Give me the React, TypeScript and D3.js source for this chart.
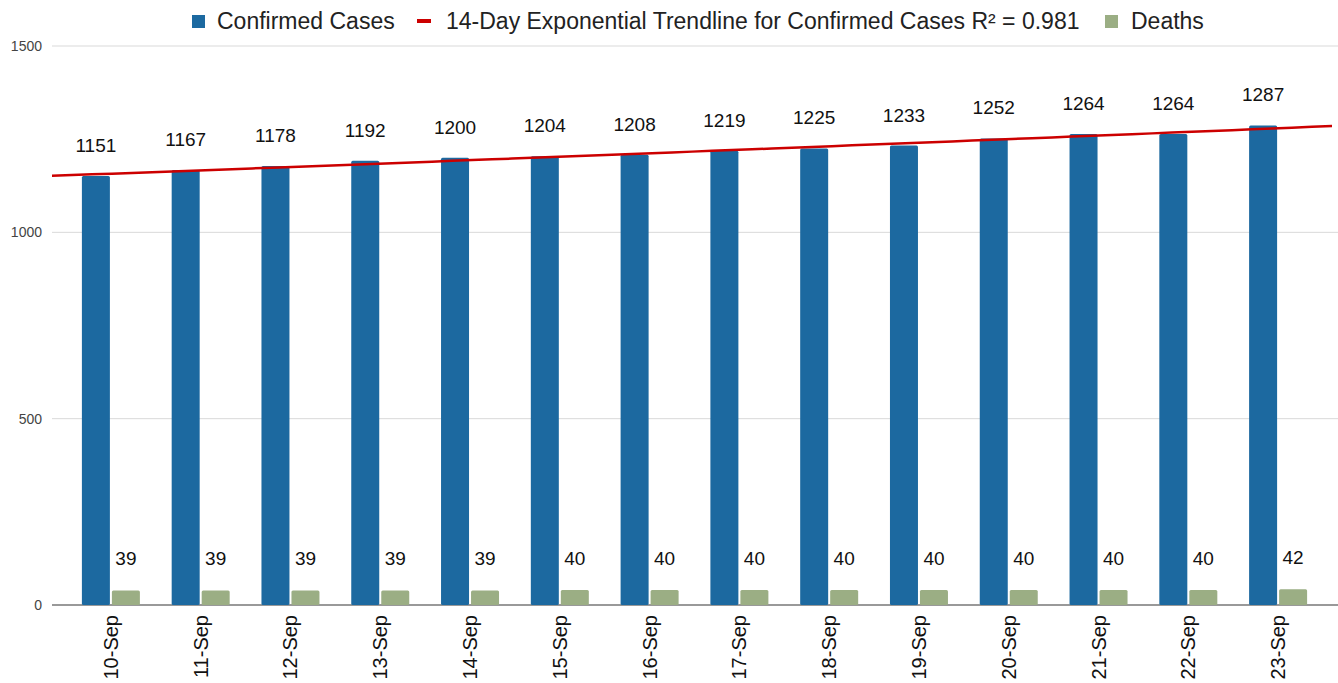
import React from "react";
import * as d3 from "d3";

const WIDTH = 1338;
const HEIGHT = 683;

const dates = ["10-Sep", "11-Sep", "12-Sep", "13-Sep", "14-Sep", "15-Sep", "16-Sep", "17-Sep", "18-Sep", "19-Sep", "20-Sep", "21-Sep", "22-Sep", "23-Sep"];
const confirmed = [1151, 1167, 1178, 1192, 1200, 1204, 1208, 1219, 1225, 1233, 1252, 1264, 1264, 1287];
const deaths = [39, 39, 39, 39, 39, 40, 40, 40, 40, 40, 40, 40, 40, 42];
const yTicks = [0, 500, 1000, 1500];

const BLUE = "#1c69a0";
const GREEN = "#9bae84";
const RED = "#cc0000";
const FONT = "'Liberation Sans', Arial, sans-serif";

// grid spans the whole width, bars sit in a slightly narrower band
const GRID_LEFT = 52;
const GRID_RIGHT = 1338;
const PLOT_TOP = 46;
const PLOT_BOTTOM = 605;

export default function App() {
  const x = d3.scaleBand().domain(dates).range([66, 1323]).paddingInner(0).paddingOuter(0);
  const y = d3.scaleLinear().domain([0, 1500]).range([PLOT_BOTTOM, PLOT_TOP]);

  const barW = 28;
  const gap = 2;

  // exponential fit: ln(y) = a + b*i
  const idx = confirmed.map((_, i) => i);
  const logs = confirmed.map((v) => Math.log(v));
  const mi = d3.mean(idx) as number;
  const ml = d3.mean(logs) as number;
  const b = d3.sum(idx, (i) => (i - mi) * (logs[i] - ml)) / d3.sum(idx, (i) => (i - mi) ** 2);
  const a = ml - b * mi;
  const step = x.step();
  const center0 = (x(dates[0]) as number) + step / 2;
  const idxAt = (px: number) => (px - center0) / step;
  const trend = (px: number) => Math.exp(a + b * idxAt(px));
  const trendPts: [number, number][] = d3.range(GRID_LEFT, GRID_RIGHT + 1, 20).map((px) => [px, y(trend(px))]);
  const trendPath = d3.line()(trendPts) as string;

  return (
    <svg width={WIDTH} height={HEIGHT} style={{ position: "absolute", left: 0, top: 0, background: "#fff" }} fontFamily={FONT}>
      {/* legend */}
      <g fontSize={23} fill="#222">
        <rect x={192} y={15} width={13} height={13} fill={BLUE} />
        <text x={217} y={29}>Confirmed Cases</text>
        <rect x={417} y={19} width={14} height={4} fill={RED} />
        <text x={446} y={29}>14-Day Exponential Trendline for Confirmed Cases R² = 0.981</text>
        <rect x={1105} y={15} width={13} height={13} fill={GREEN} />
        <text x={1131} y={29}>Deaths</text>
      </g>

      {/* grid + y ticks */}
      {yTicks.map((t) => (
        <g key={t}>
          <line x1={GRID_LEFT} x2={GRID_RIGHT} y1={y(t)} y2={y(t)} stroke={t === 0 ? "#777" : "#d9d9d9"} strokeWidth={t === 0 ? 1.5 : 1} />
          <text x={42} y={y(t)} dy="0.35em" textAnchor="end" fontSize={14} fill="#444">{t}</text>
        </g>
      ))}

      {/* bars */}
      {dates.map((d, i) => {
        const cx = (x(d) as number) + step / 2;
        const bx = cx - gap / 2 - barW;
        const gx = cx + gap / 2;
        return (
          <g key={d}>
            <rect x={bx} y={y(confirmed[i])} width={barW} height={y(0) - y(confirmed[i])} fill={BLUE} rx={1.5} />
            <rect x={gx} y={y(deaths[i])} width={barW} height={y(0) - y(deaths[i])} fill={GREEN} rx={1.5} />
            <text x={bx + barW / 2} y={y(confirmed[i]) - 24} textAnchor="middle" fontSize={19} fill="#111">{confirmed[i]}</text>
            <text x={gx + barW / 2} y={y(deaths[i]) - 25} textAnchor="middle" fontSize={19} fill="#111">{deaths[i]}</text>
            <text transform={`translate(${cx + 7},${PLOT_BOTTOM + 10}) rotate(-90)`} textAnchor="end" fontSize={20} fill="#111">{d}</text>
          </g>
        );
      })}

      {/* trendline */}
      <path d={trendPath} fill="none" stroke={RED} strokeWidth={2.5} />
    </svg>
  );
}
